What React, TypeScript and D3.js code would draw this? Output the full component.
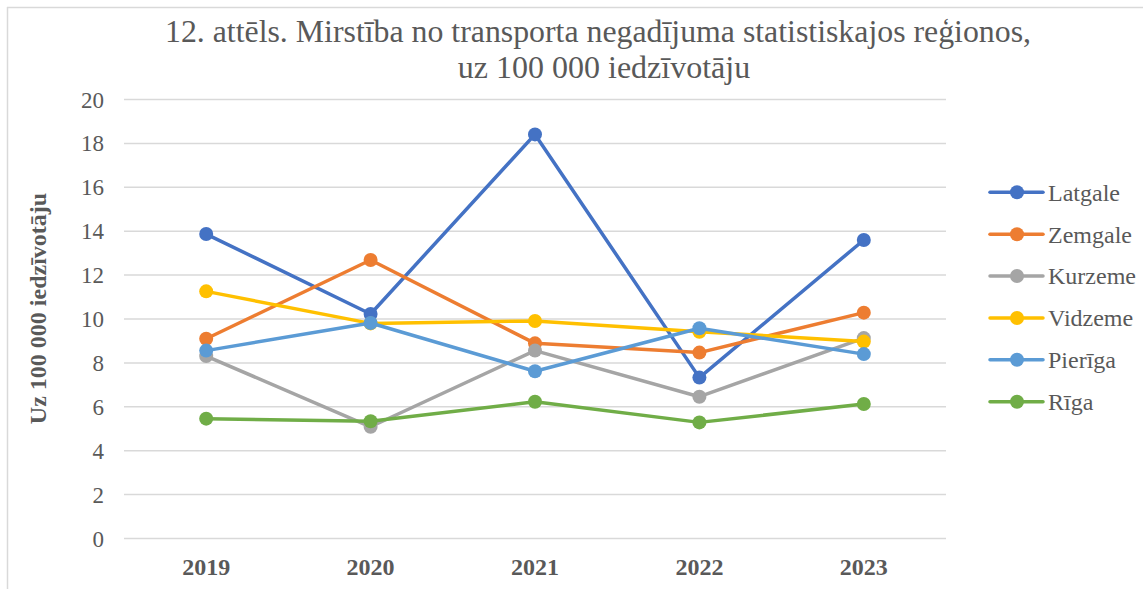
import React from "react";
import * as d3 from "d3";

const years = ["2019", "2020", "2021", "2022", "2023"];
const seriesNames = ["Latgale", "Zemgale", "Kurzeme", "Vidzeme", "Pierīga", "Rīga"];
const latgale = [13.87, 10.23, 18.41, 7.33, 13.6];
const zemgale = [9.1, 12.69, 8.89, 8.47, 10.29];
const kurzeme = [8.31, 5.09, 8.56, 6.46, 9.13];
const vidzeme = [11.26, 9.8, 9.91, 9.42, 8.97];
const pieriga = [8.56, 9.82, 7.62, 9.58, 8.4];
const riga = [5.46, 5.34, 6.23, 5.29, 6.13];
const seriesValues = [latgale, zemgale, kurzeme, vidzeme, pieriga, riga];
const colors = ["#4472C4", "#ED7D31", "#A5A5A5", "#FFC000", "#5B9BD5", "#70AD47"];
const yTicks = [0, 2, 4, 6, 8, 10, 12, 14, 16, 18, 20];
const titleLines = [
  "12. attēls. Mirstība no transporta negadījuma statistiskajos reģionos,",
  "uz 100 000 iedzīvotāju",
];
const yAxisTitle = "Uz 100 000 iedzīvotāju";

const W = 1143;
const H = 589;
const plotLeft = 124;
const plotRight = 946;
const plotTop = 99.5;
const plotBottom = 538.5;
const font = "'Liberation Serif', 'Times New Roman', serif";

export default function App() {
  const x = d3.scaleBand<string>().domain(years).range([plotLeft, plotRight]);
  const y = d3.scaleLinear().domain([0, 20]).range([plotBottom, plotTop]);
  const line = d3
    .line<number>()
    .x((_, i) => (x(years[i]) as number) + x.bandwidth() / 2)
    .y((v) => y(v));

  const legendY = d3.scalePoint<string>().domain(seriesNames).range([192.3, 401.7]);

  return (
    <svg
      width={W}
      height={H}
      style={{ position: "absolute", left: 0, top: 0, background: "#fff" }}
    >
      <rect x={0} y={0} width={W} height={H} fill="#fff" />
      <line x1={7.5} y1={7} x2={7.5} y2={H} stroke="#d9d9d9" strokeWidth={1.5} />
      <line x1={7} y1={7.5} x2={W} y2={7.5} stroke="#d9d9d9" strokeWidth={1.5} />

      <text
        x={598}
        y={42}
        textAnchor="middle"
        fontFamily={font}
        fontSize={32}
        fill="#595959"
        textLength={866}
        lengthAdjust="spacingAndGlyphs"
      >
        {titleLines[0]}
      </text>
      <text
        x={604}
        y={77.5}
        textAnchor="middle"
        fontFamily={font}
        fontSize={32}
        fill="#595959"
      >
        {titleLines[1]}
      </text>

      {yTicks.map((t) => (
        <g key={t}>
          <line
            x1={plotLeft}
            x2={plotRight}
            y1={y(t)}
            y2={y(t)}
            stroke="#d9d9d9"
            strokeWidth={1.5}
          />
          <text
            x={104}
            y={y(t)}
            dy="0.35em"
            textAnchor="end"
            fontFamily={font}
            fontSize={23}
            fill="#595959"
          >
            {t}
          </text>
        </g>
      ))}

      {years.map((yr) => (
        <text
          key={yr}
          x={(x(yr) as number) + x.bandwidth() / 2}
          y={575}
          textAnchor="middle"
          fontFamily={font}
          fontSize={24}
          fontWeight="bold"
          fill="#595959"
        >
          {yr}
        </text>
      ))}

      <text
        transform={`translate(46, 308.5) rotate(-90)`}
        textAnchor="middle"
        fontFamily={font}
        fontSize={24}
        fontWeight="bold"
        fill="#595959"
      >
        {yAxisTitle}
      </text>

      {seriesValues.map((vals, si) => (
        <g key={seriesNames[si]}>
          <path
            d={line(vals) as string}
            fill="none"
            stroke={colors[si]}
            strokeWidth={3.5}
            strokeLinejoin="round"
            strokeLinecap="round"
          />
          {vals.map((v, i) => (
            <circle
              key={i}
              cx={(x(years[i]) as number) + x.bandwidth() / 2}
              cy={y(v)}
              r={7}
              fill={colors[si]}
            />
          ))}
        </g>
      ))}

      {seriesNames.map((n, si) => {
        const ly = legendY(n) as number;
        return (
          <g key={n}>
            <line
              x1={990}
              x2={1043}
              y1={ly}
              y2={ly}
              stroke={colors[si]}
              strokeWidth={3.5}
              strokeLinecap="round"
            />
            <circle cx={1017} cy={ly} r={7} fill={colors[si]} />
            <text
              x={1048}
              y={ly}
              dy="0.35em"
              fontFamily={font}
              fontSize={24}
              fill="#595959"
            >
              {n}
            </text>
          </g>
        );
      })}
    </svg>
  );
}
